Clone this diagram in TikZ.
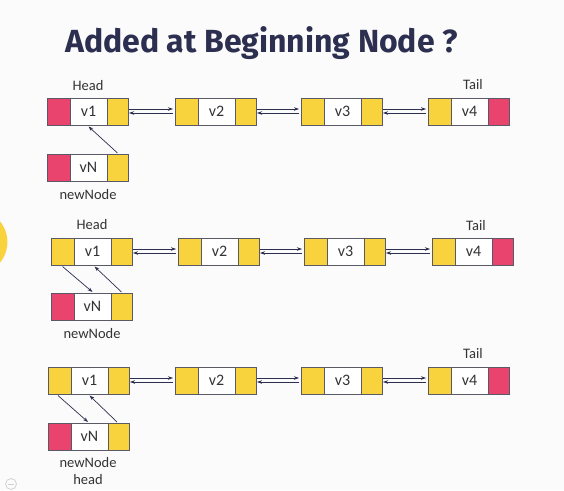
\documentclass[tikz,border=0pt]{standalone}
\usepackage{fontspec}
\setmainfont{Carlito}
\newfontfamily\titlefont{Fira Sans}
\usetikzlibrary{arrows.meta}
\definecolor{pinkc}{HTML}{E9446E}
\definecolor{yel}{HTML}{F8D33E}
\definecolor{navy}{HTML}{2C2F4F}
\definecolor{edgec}{HTML}{5A5A66}
\definecolor{bgc}{HTML}{FBFBFB}
\definecolor{txt}{HTML}{333333}
\tikzset{
 cell/.style={draw=edgec, line width=0.8pt, minimum height=27pt, inner sep=0pt, outer sep=0pt, anchor=north west, font=\fontsize{16}{18}\selectfont, text=txt},
 lcell/.style={cell, minimum width=23pt},
 mcell/.style={cell, minimum width=37pt, fill=white},
 rcell/.style={cell, minimum width=21pt},
 lbl/.style={font=\fontsize{14.5}{16}\selectfont, text=txt},
 arr/.style={-{Stealth[length=5pt,width=3.5pt]}, draw=navy, line width=0.7pt},
}
\newcommand\drawlist[6]{%
 \node[lcell, fill=#4] (#1l) at (#2,#3) {};
 \node[mcell] (#1m) at (#1l.north east) {#5};
 \node[rcell, fill=#6] (#1r) at (#1m.north east) {};
}
\newcommand\dlink[2]{%
 \draw[arr] ([shift={(1,11)}]#1r.north east) -- ([shift={(-2,11)}]#2l.north west);
 \draw[arr] ([shift={(-2,15)}]#2l.north west) -- ([shift={(1,15)}]#1r.north east);
}
\begin{document}
\begin{tikzpicture}[x=1pt,y=-1pt]
\useasboundingbox (0,0) rectangle (564,490);
\fill[bgc] (0,0) rectangle (564,490);
\begin{scope}
\clip (0,0) rectangle (564,490);
\fill[yel] (-25,242) circle (32.4);
\end{scope}
\draw[gray!35, line width=0.8pt] (11,484) circle (5.5);
\draw[gray!35, line width=0.8pt] (8,484) -- (14,484);

\node[font=\titlefont\bfseries\fontsize{32}{38}\selectfont, text=navy, anchor=base] (title) at (261.5,52) {Added at Beginning Node ?};

% Row 1
\drawlist{r1a}{47}{98}{pinkc}{v1}{yel}
\drawlist{r1b}{175}{98}{yel}{v2}{yel}
\drawlist{r1c}{301}{98}{yel}{v3}{yel}
\drawlist{r1d}{428}{98}{yel}{v4}{pinkc}
\drawlist{r1n}{47}{154}{pinkc}{vN}{yel}
\dlink{r1a}{r1b}
\dlink{r1b}{r1c}
\dlink{r1c}{r1d}
\node[lbl] (h1) at (88,86) {Head};
\node[lbl] (t1) at (473,85) {Tail};
\node[lbl] (n1) at (88,195) {newNode};
\draw[arr] ([shift={(0,-1)}]r1nr.north) -- ([shift={(0,1.5)}]r1am.south);

% Row 2
\drawlist{r2a}{51}{238}{yel}{v1}{yel}
\drawlist{r2b}{178}{238}{yel}{v2}{yel}
\drawlist{r2c}{304}{238}{yel}{v3}{yel}
\drawlist{r2d}{432}{238}{yel}{v4}{pinkc}
\drawlist{r2n}{51}{293}{pinkc}{vN}{yel}
\dlink{r2a}{r2b}
\dlink{r2b}{r2c}
\dlink{r2c}{r2d}
\node[lbl] (h2) at (92,225) {Head};
\node[lbl] (t2) at (476,226) {Tail};
\node[lbl] (n2) at (92,334) {newNode};
\draw[arr] ([shift={(0,1.5)}]r2al.south) -- ([shift={(0,-1)}]r2nm.north);
\draw[arr] ([shift={(0,-1)}]r2nr.north) -- ([shift={(2,1.5)}]r2am.south);

% Row 3
\drawlist{r3a}{48}{367}{yel}{v1}{yel}
\drawlist{r3b}{175}{367}{yel}{v2}{yel}
\drawlist{r3c}{301}{367}{yel}{v3}{yel}
\drawlist{r3d}{428}{367}{yel}{v4}{pinkc}
\drawlist{r3n}{48}{423}{pinkc}{vN}{yel}
\dlink{r3a}{r3b}
\dlink{r3b}{r3c}
\dlink{r3c}{r3d}
\node[lbl] (t3) at (473,354) {Tail};
\node[lbl] (n3) at (88,463) {newNode};
\node[lbl] (hd3) at (88,480) {head};
\draw[arr] ([shift={(-1.5,1.5)}]r3al.south) -- ([shift={(-1.5,-1)}]r3nm.north);
\draw[arr] ([shift={(-1.5,-1)}]r3nr.north) -- ([shift={(0,1.5)}]r3am.south);
\end{tikzpicture}
\end{document}
